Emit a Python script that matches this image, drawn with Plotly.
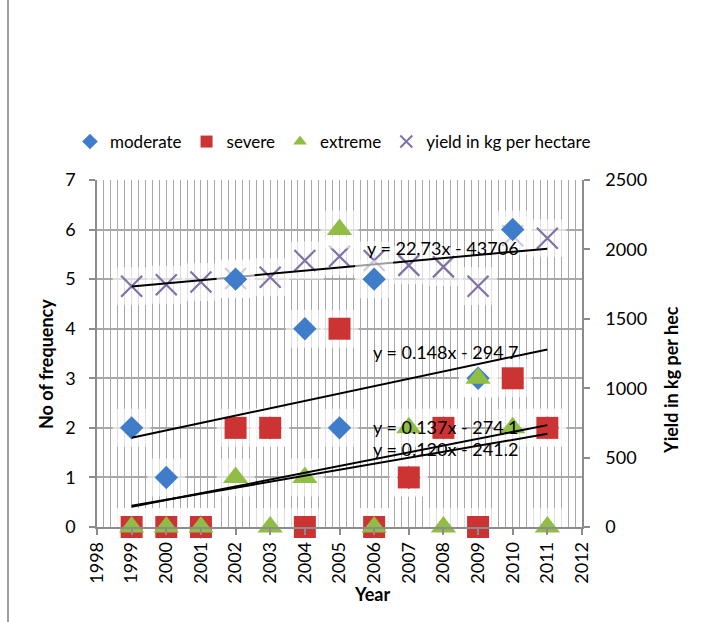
import math
import numpy as np
import plotly.graph_objects as go

# Drought frequency by class and crop yield, 1999-2011
years = [1999, 2000, 2001, 2002, 2003, 2004, 2005, 2006, 2007, 2008, 2009, 2010, 2011]
moderate = [2, 1, 0, 5, 2, 4, 2, 5, 1, 2, 3, 6, 2]
severe = [0, 0, 0, 2, 2, 0, 4, 0, 1, 2, 0, 3, 2]
extreme = [0, 0, 0, 1, 0, 1, 6, 0, 2, 0, 3, 2, 0]
yield_kg = [1735, 1745, 1765, 1790, 1800, 1920, 1950, 1920, 1885, 1874, 1735, 2098, 2080]

FONT = "Lato"
GRID = "#A8A8A8"
AXIS = "#8C8C8C"

PLOT_L, PLOT_R, PLOT_T, PLOT_B = 97, 582, 180, 527
W, H = 705, 622

# yield lives on the base axis (right side) so the frequency axis, which
# overlays it, draws its markers on top of the yield crosses
Y_YIELD, Y_FREQ = "y", "y2"


def px_to_paper(px, py):
    return (px - PLOT_L) / (PLOT_R - PLOT_L), (PLOT_B - py) / (PLOT_B - PLOT_T)


def trunc(v, d):
    f = 10 ** d
    return math.trunc(v * f) / f


def equation(m, b, dm, db):
    sign = "-" if b < 0 else "+"
    return f"y = {trunc(m, dm):.{dm}f}x {sign} {abs(trunc(b, db)):.{db}f}"


fig = go.Figure()

# soft white backing behind every marker
halo = dict(symbol="square", size=38, color="rgba(255,255,255,0.62)", line=dict(width=0))
for vals, yax in [(yield_kg, Y_YIELD), (moderate, Y_FREQ), (severe, Y_FREQ), (extreme, Y_FREQ)]:
    fig.add_trace(go.Scatter(
        x=years, y=vals, mode="markers", yaxis=yax, showlegend=False, hoverinfo="skip",
        marker=halo, cliponaxis=False,
    ))

fig.add_trace(go.Scatter(
    x=years, y=yield_kg, mode="markers", name="yield in kg per hectare",
    yaxis=Y_YIELD, legendrank=4, cliponaxis=False,
    marker=dict(symbol="x-thin", size=21, line=dict(width=2.2, color="#8171A8"), color="#8171A8"),
))
fig.add_trace(go.Scatter(
    x=years, y=moderate, mode="markers", name="moderate", legendrank=1, yaxis=Y_FREQ,
    cliponaxis=False, marker=dict(symbol="diamond", size=18, color="#3F7DCB"),
))
fig.add_trace(go.Scatter(
    x=years, y=severe, mode="markers", name="severe", legendrank=2, yaxis=Y_FREQ,
    cliponaxis=False, marker=dict(symbol="square", size=22, color="#CC3333"),
))
fig.add_trace(go.Scatter(
    x=years, y=extreme, mode="markers", name="extreme", legendrank=3, yaxis=Y_FREQ,
    cliponaxis=False, marker=dict(symbol="triangle-up", size=22, color="#90BE45"),
))

# linear trendlines and their equations (label positions in frequency units)
trend_specs = [
    (yield_kg, Y_YIELD, (2008.0, 5.63)),
    (moderate, Y_FREQ, (2008.05, 3.53)),
    (severe, Y_FREQ, (2008.05, 2.02)),
    (extreme, Y_FREQ, (2008.05, 1.57)),
]
annotations = []
for vals, yax, (lx, ly) in trend_specs:
    m, b = np.polyfit(years, vals, 1)
    xs = [years[0], years[-1]]
    ys = [m * xs[0] + b, m * xs[1] + b]
    fig.add_trace(go.Scatter(
        x=xs, y=ys, mode="lines", yaxis=yax,
        showlegend=False, hoverinfo="skip", line=dict(color="black", width=2),
    ))
    dm = 2 if abs(m) >= 10 else 3
    db = 0 if abs(b) >= 10000 else 1
    annotations.append(dict(
        x=lx, y=ly, xref="x", yref=Y_FREQ, text=equation(m, b, dm, db), showarrow=False,
        font=dict(family=FONT, size=18, color="black"), xanchor="center", yanchor="middle",
    ))

# axis titles
ax, ay = px_to_paper(33, 364)
annotations.append(dict(x=ax, y=ay, xref="paper", yref="paper", text="<b>No of frequency</b>",
                        textangle=-90, showarrow=False, font=dict(family=FONT, size=18, color="black")))
ax, ay = px_to_paper(684, 380)
annotations.append(dict(x=ax, y=ay, xref="paper", yref="paper", text="<b>Yield in kg per hec</b>",
                        textangle=-90, showarrow=False, font=dict(family=FONT, size=18, color="black")))
ax, ay = px_to_paper(372, 607)
annotations.append(dict(x=ax, y=ay, xref="paper", yref="paper", text="<b>Year</b>",
                        showarrow=False, font=dict(family=FONT, size=18, color="black")))

# chart border on the left edge
bx0, by0 = px_to_paper(8, 0)
bx1, by1 = px_to_paper(8, 622)
shapes = [dict(type="line", xref="paper", yref="paper", x0=bx0, x1=bx1, y0=by0, y1=by1,
               line=dict(color="#A0A0A0", width=2))]

lx, ly = px_to_paper(70, 142)
fig.update_layout(
    width=W, height=H,
    margin=dict(l=PLOT_L, r=W - PLOT_R, t=PLOT_T, b=H - PLOT_B, pad=0),
    paper_bgcolor="white", plot_bgcolor="white",
    font=dict(family=FONT, size=18, color="black"),
    showlegend=True,
    legend=dict(orientation="h", x=lx, y=ly, xanchor="left", yanchor="middle",
                font=dict(family=FONT, size=17, color="black"), bgcolor="rgba(0,0,0,0)",
                itemwidth=30, itemsizing="constant", tracegroupgap=0),
    xaxis=dict(
        range=[1998, 2012], tickmode="linear", tick0=1998, dtick=1, tickangle=-90,
        ticks="outside", ticklen=6, tickcolor=AXIS, tickwidth=1.5,
        showgrid=True, gridcolor=GRID, gridwidth=1.2,
        minor=dict(dtick=0.2, showgrid=True, gridcolor=GRID, gridwidth=1.2),
        showline=True, linecolor=AXIS, linewidth=1.5, zeroline=False,
        tickfont=dict(family=FONT, size=18, color="black"),
    ),
    # right-hand yield axis
    yaxis=dict(
        range=[0, 2500], tickmode="linear", tick0=0, dtick=500, side="right",
        ticks="outside", ticklen=6, tickcolor=AXIS, tickwidth=1.5, showgrid=False,
        showline=True, linecolor=AXIS, linewidth=1.5, zeroline=False,
        tickfont=dict(family=FONT, size=18, color="black"), ticklabelstandoff=12,
    ),
    # left-hand frequency axis
    yaxis2=dict(
        range=[0, 7], tickmode="linear", tick0=0, dtick=1, overlaying="y", side="left",
        ticks="outside", ticklen=6, tickcolor=AXIS, tickwidth=1.5,
        showgrid=True, gridcolor=GRID, gridwidth=1.5,
        showline=True, linecolor=AXIS, linewidth=1.5, zeroline=False,
        tickfont=dict(family=FONT, size=18, color="black"), ticklabelstandoff=10,
    ),
    annotations=annotations,
    shapes=shapes,
)

fig.write_html("out.html")
